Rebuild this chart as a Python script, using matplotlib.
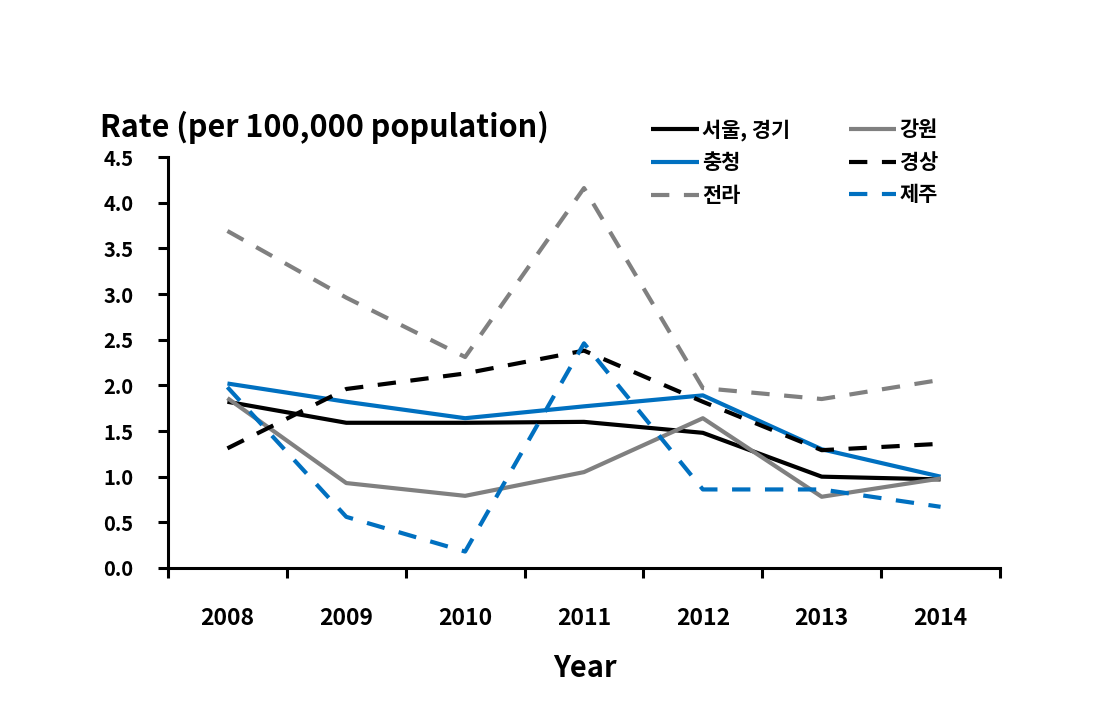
import matplotlib
matplotlib.use("Agg")
import matplotlib.pyplot as plt
import numpy as np

plt.rcParams["font.family"] = ["Noto Sans CJK KR", "DejaVu Sans"]
plt.rcParams["font.weight"] = "bold"

years = ["2008", "2009", "2010", "2011", "2012", "2013", "2014"]
seoul = [1.82, 1.59, 1.59, 1.60, 1.48, 1.00, 0.97]
gangwon = [1.86, 0.93, 0.79, 1.05, 1.64, 0.78, 0.98]
chungcheong = [2.02, 1.82, 1.64, 1.77, 1.89, 1.30, 1.00]
gyeongsang = [1.31, 1.96, 2.13, 2.38, 1.82, 1.29, 1.36]
jeolla = [3.69, 2.96, 2.31, 4.16, 1.97, 1.85, 2.06]
jeju = [1.98, 0.56, 0.18, 2.46, 0.86, 0.86, 0.67]

BLUE = "#0070C0"
GRAY = "#808080"
LW = 3.0
DASH = (4.4, 3.5)

fig = plt.figure(figsize=(10.95, 7.05), dpi=100)
ax = fig.add_axes([168 / 1095, 1 - 568 / 705, 832 / 1095, 411 / 705])

x = np.arange(len(years))
series = [
    ("서울, 경기", seoul, "black", "-"),
    ("충청", chungcheong, BLUE, "-"),
    ("전라", jeolla, GRAY, "--"),
    ("강원", gangwon, GRAY, "-"),
    ("경상", gyeongsang, "black", "--"),
    ("제주", jeju, BLUE, "--"),
]
for label, vals, color, ls in series:
    kw = dict(color=color, lw=LW, label=label, solid_capstyle="butt", dash_capstyle="butt")
    if ls == "--":
        ax.plot(x, vals, dashes=DASH, **kw)
    else:
        ax.plot(x, vals, **kw)

ax.set_xlim(-0.5, 6.5)
ax.set_ylim(0, 4.5)
yt = np.arange(0, 4.51, 0.5)
ax.set_yticks(yt)
ax.set_yticklabels([f"{v:.1f}" for v in yt], fontsize=14.5, fontweight="bold")
ax.set_xticks(x)
ax.set_xticklabels(years, fontsize=16.5, fontweight="bold")
ax.set_xticks(np.arange(-0.5, 6.6, 1), minor=True)
ax.tick_params(axis="x", which="major", length=0, pad=28)
ax.tick_params(axis="x", which="minor", length=7, width=2.2, direction="out")
ax.tick_params(axis="y", length=7, width=2.2, direction="out", pad=18)

for s in ["top", "right"]:
    ax.spines[s].set_visible(False)
for s in ["left", "bottom"]:
    ax.spines[s].set_linewidth(2.2)

fig.text(100 / 1095, 1 - 137 / 705, "Rate (per 100,000 population)", fontsize=22,
         fontweight="bold", ha="left", va="baseline")
fig.text(585 / 1095, 1 - 668 / 705, "Year", fontsize=21, fontweight="bold",
         ha="center", va="center")

fig.legend(loc="upper left", bbox_to_anchor=(651 / 1095, 1 - 119 / 705), ncol=2,
           frameon=False, fontsize=15, handlelength=2.3, handletextpad=0.15,
           columnspacing=2.8, labelspacing=0.55, borderpad=0, borderaxespad=0)

fig.savefig("out.png", dpi=100)
